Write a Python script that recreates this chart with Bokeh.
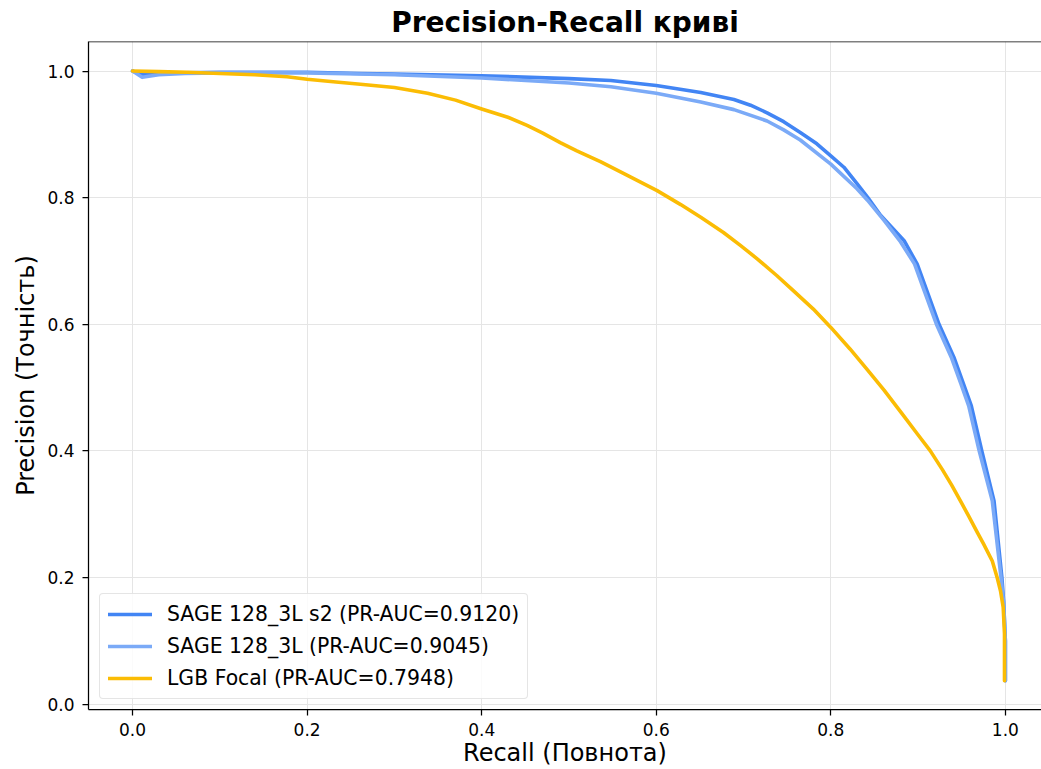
from bokeh.plotting import figure
from bokeh.models import Range1d, Span, Legend, LegendItem, FixedTicker, PrintfTickFormatter
from bokeh.embed import file_html
from bokeh.resources import INLINE

# --- data ---
sage_s2_recall = [0, 0.011, 0.03, 0.06, 0.1, 0.2, 0.261, 0.3, 0.4, 0.5, 0.548, 0.6, 0.651, 0.689, 0.708,
                  0.727, 0.746, 0.765, 0.784, 0.8, 0.815, 0.830, 0.842, 0.857, 0.870, 0.884, 0.899, 0.910,
                  0.924, 0.941, 0.952, 0.961, 0.973, 0.987, 0.996, 0.998, 1.0, 1.0]
sage_s2_precision = [1.0, 0.994, 0.996, 0.997, 0.998, 0.998, 0.996, 0.995, 0.9925, 0.988, 0.985, 0.977,
                     0.966, 0.955, 0.946, 0.934, 0.920, 0.903, 0.885, 0.866, 0.848, 0.822, 0.801, 0.772,
                     0.753, 0.732, 0.695, 0.653, 0.6, 0.548, 0.506, 0.471, 0.4, 0.321, 0.2, 0.163, 0.1, 0.037]

sage_recall = [0, 0.011, 0.03, 0.06, 0.1, 0.2, 0.3, 0.4, 0.5, 0.548, 0.6, 0.651, 0.689, 0.727, 0.746,
               0.765, 0.8, 0.830, 0.842, 0.861, 0.880, 0.896, 0.907, 0.921, 0.938, 0.949, 0.958, 0.970,
               0.985, 0.995, 0.998, 1.0, 1.0]
sage_precision = [1.0, 0.99, 0.994, 0.996, 0.997, 0.997, 0.994, 0.989, 0.981, 0.975, 0.965, 0.951, 0.939,
                  0.921, 0.907, 0.891, 0.853, 0.814, 0.796, 0.764, 0.73, 0.695, 0.653, 0.6, 0.548, 0.506,
                  0.471, 0.4, 0.321, 0.2, 0.16, 0.1, 0.037]

lgb_recall = [0, 0.03, 0.063, 0.1, 0.14, 0.177, 0.2, 0.23, 0.261, 0.3, 0.338, 0.37, 0.4, 0.43, 0.452,
              0.47, 0.49, 0.509, 0.536, 0.563, 0.601, 0.628, 0.651, 0.677, 0.696, 0.716, 0.738, 0.757,
              0.78, 0.8, 0.822, 0.842, 0.861, 0.882, 0.899, 0.914, 0.928, 0.9385, 0.9485, 0.958, 0.968,
              0.975, 0.985, 0.9906, 0.9944, 0.9975, 0.999, 0.999]
lgb_precision = [1.0, 0.999, 0.998, 0.996, 0.994, 0.991, 0.987, 0.983, 0.979, 0.974, 0.965, 0.954, 0.94,
                 0.927, 0.914, 0.902, 0.887, 0.874, 0.857, 0.838, 0.811, 0.789, 0.769, 0.745, 0.725, 0.703,
                 0.677, 0.653, 0.624, 0.595, 0.561, 0.528, 0.496, 0.458, 0.427, 0.4, 0.37, 0.346, 0.321,
                 0.297, 0.271, 0.253, 0.226, 0.2, 0.179, 0.153, 0.111, 0.037]

series_labels = ["SAGE 128_3L s2 (PR-AUC=0.9120)",
                 "SAGE 128_3L (PR-AUC=0.9045)",
                 "LGB Focal (PR-AUC=0.7948)"]
series_colors = ["#4285F4", "#7BAAF7", "#FBBC04"]
tick_values = [0.0, 0.2, 0.4, 0.6, 0.8, 1.0]

FONT = "DejaVu Sans"

p = figure(width=1041, height=769, output_backend="svg", toolbar_location=None,
           x_range=Range1d(-0.0505, 1.0414), y_range=Range1d(-0.0085, 1.0466),
           min_border_left=88, min_border_right=0, min_border_top=41, min_border_bottom=60)

p.title.text = "Precision-Recall криві"
p.title.align = "center"
p.title.text_font = FONT
p.title.text_font_style = "bold"
p.title.text_font_size = "28px"
p.title.text_color = "black"
p.title.standoff = 5

p.outline_line_color = None
p.background_fill_color = "white"
p.border_fill_color = "white"

for ax in (p.xaxis[0], p.yaxis[0]):
    ax.ticker = FixedTicker(ticks=tick_values)
    ax.formatter = PrintfTickFormatter(format="%.1f")
    ax.axis_line_color = "black"
    ax.axis_line_width = 1.25
    ax.major_tick_line_color = "black"
    ax.major_tick_line_width = 1.25
    ax.major_tick_in = 0
    ax.major_tick_out = 6
    ax.minor_tick_line_color = None
    ax.major_label_text_font = FONT
    ax.major_label_text_font_size = "17px"
    ax.major_label_text_color = "black"
    ax.axis_label_text_font = FONT
    ax.axis_label_text_font_size = "24px"
    ax.axis_label_text_font_style = "normal"
    ax.axis_label_text_color = "black"

p.xaxis.axis_label = "Recall (Повнота)"
p.yaxis.axis_label = "Precision (Точність)"
p.xaxis.major_label_standoff = 7
p.yaxis.major_label_standoff = 8
p.xaxis.axis_label_standoff = 0
p.yaxis.axis_label_standoff = 4

p.xgrid.ticker = FixedTicker(ticks=tick_values)
p.ygrid.ticker = FixedTicker(ticks=tick_values)
p.grid.grid_line_color = "#e5e5e5"
p.grid.grid_line_width = 1

top_spine = Span(location=1.0466, dimension="width", line_color="black", line_width=1.5)
p.add_layout(top_spine)

xs = [sage_s2_recall, sage_recall, lgb_recall]
ys = [sage_s2_precision, sage_precision, lgb_precision]
items = []
for x, y, c, lab in zip(xs, ys, series_colors, series_labels):
    r = p.line(x, y, line_color=c, line_width=3.6, line_join="round", line_cap="round")
    items.append(LegendItem(label=lab, renderers=[r]))

legend = Legend(items=items, location=(11, 10))
legend.label_text_font = FONT
legend.label_text_font_size = "20.4px"
legend.label_text_color = "black"
legend.glyph_width = 44
legend.glyph_height = 22
legend.label_height = 22
legend.label_standoff = 15
legend.spacing = 8
legend.padding = 8
legend.margin = 0
legend.border_line_color = "#cccccc"
legend.border_line_width = 1
legend.border_radius = 4
legend.background_fill_color = "white"
legend.background_fill_alpha = 0.85
p.add_layout(legend, "center")

open("out.html", "w").write(file_html(p, INLINE))
